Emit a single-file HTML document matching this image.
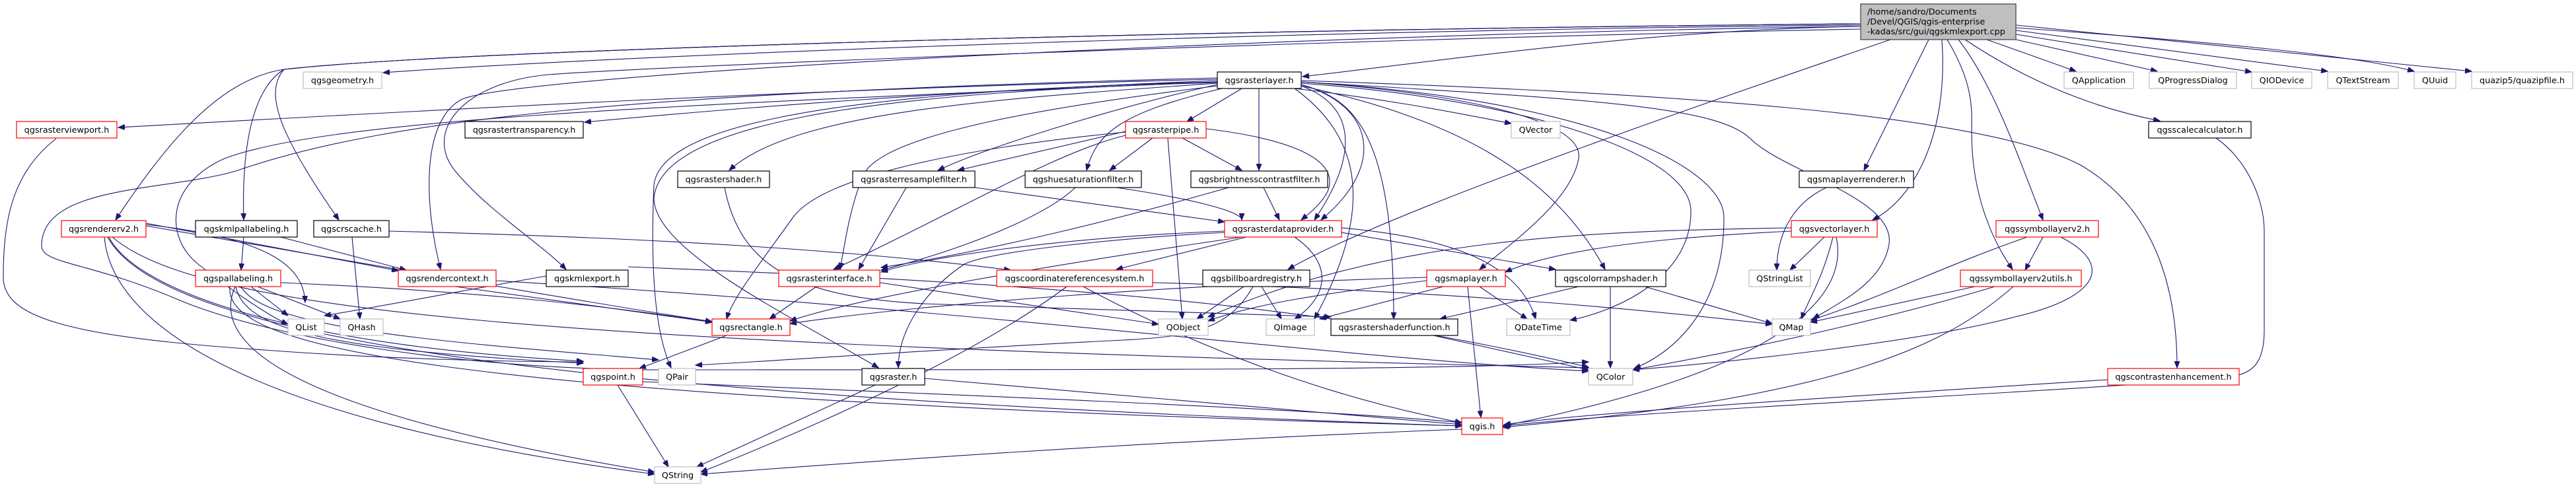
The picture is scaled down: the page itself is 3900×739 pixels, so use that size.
<!DOCTYPE html>
<html><head><meta charset="utf-8"><style>
html,body{margin:0;padding:0;background:#fff;}
svg{display:block;}
text{font-family:"DejaVu Sans","Liberation Sans",sans-serif;font-size:12.8px;fill:#000;}
.e{fill:none;stroke:#191970;stroke-width:1.1;marker-end:url(#a);}
.r{fill:#fff;stroke:#ff0000;stroke-width:1.2;}
.b{fill:#fff;stroke:#000;stroke-width:1.2;}
.g{fill:#fff;stroke:#bfbfbf;stroke-width:1.2;}
</style></head><body>
<svg width="3900" height="739" viewBox="0 0 3900 739" xmlns="http://www.w3.org/2000/svg">
<defs><marker id="a" markerUnits="userSpaceOnUse" markerWidth="11" markerHeight="8" refX="10" refY="4" orient="auto"><path d="M0,0 L10,4 L0,8 z" fill="#191970" stroke="#191970"/></marker></defs>
<rect width="3900" height="739" fill="#fff"/>
<g>
<!-- main edges -->
<path class="e" d="M2817,40 C2500,45 2200,90 1972,116"/>
<path class="e" d="M2817,38 C2000,45 1000,80 580,110"/>
<path class="e" d="M2817,36 C1800,45 700,75 430,105 C330,120 250,220 175,333"/>
<path class="e" d="M2817,36 C1800,45 700,75 430,105 C390,130 365,200 369,333"/>
<path class="e" d="M2817,36 C1800,45 700,75 430,105 C400,140 420,200 513,333"/>
<path class="e" d="M2817,40 C2000,50 800,110 700,150 C640,180 640,300 667,408"/>
<path class="e" d="M2817,44 C2000,60 1000,100 830,113 C700,125 640,200 690,260 C740,320 820,370 857,408"/>
<path class="e" d="M2862,60 C2600,150 2100,320 1950,408"/>
<path class="e" d="M2920,60 L2822,258"/>
<path class="e" d="M2940,60 C2950,200 2900,300 2835,333"/>
<path class="e" d="M2948,60 C2990,130 2985,170 2985,200 C2985,300 3020,370 3047,408"/>
<path class="e" d="M2965,60 C3020,130 3060,250 3093,333"/>
<path class="e" d="M3008,60 L3143,108"/>
<path class="e" d="M2975,60 C3050,110 3150,160 3270,183"/>
<path class="e" d="M3052,60 L3266,108"/>
<path class="e" d="M3052,52 L3409,109"/>
<path class="e" d="M3052,46 L3524,108"/>
<path class="e" d="M3052,42 C3300,60 3550,80 3655,108"/>
<path class="e" d="M3052,38 L3742,108"/>
<!-- rasterlayer edges -->
<path class="e" d="M1843,120 C1200,135 600,170 179,193"/>
<path class="e" d="M1843,122 C1400,140 1100,165 885,185"/>
<path class="e" d="M1880,134 L1797,184"/>
<path class="e" d="M1906,134 L1906,258"/>
<path class="e" d="M1960,134 C2100,150 2200,170 2288,187"/>
<path class="e" d="M1850,134 C1700,170 1660,200 1645,258"/>
<path class="e" d="M1843,128 C1700,160 1500,220 1420,258"/>
<path class="e" d="M1843,126 C1500,150 1200,170 1104,258"/>
<path class="e" d="M1843,130 C1600,160 1350,200 1310,260 C1290,300 1280,360 1272,408"/>
<path class="e" d="M1970,130 C2050,160 2060,230 1990,333"/>
<path class="e" d="M1970,128 C2080,160 2100,250 2000,333"/>
<path class="e" d="M1970,128 C2050,150 2110,200 2110,483"/>
<path class="e" d="M1960,134 C2050,200 2090,300 1990,483"/>
<path class="e" d="M1970,124 C2200,140 2400,180 2390,240 C2380,300 2300,360 2240,408"/>
<path class="e" d="M1970,130 C2200,180 2350,260 2430,408"/>
<path class="e" d="M1970,126 C2300,150 2560,230 2560,320 C2560,420 2450,470 2377,485"/>
<path class="e" d="M1970,124 C2400,150 2610,250 2610,330 C2610,480 2520,540 2474,558"/>
<path class="e" d="M1970,122 C2500,140 3000,170 3150,250 C3270,320 3296,450 3296,557"/>
<path class="e" d="M1970,124 C2400,150 2600,160 2650,210 C2700,260 2870,300 2860,370 C2850,430 2780,460 2745,483"/>
<path class="e" d="M1843,124 C1000,160 500,180 340,240 C250,280 250,360 300,400 C350,440 410,480 436,491"/>
<path class="e" d="M1843,118 C1000,140 600,175 357,259 C250,290 63,280 63,372 C63,400 134,396 268,453 C400,510 700,560 1000,560 C1800,560 2200,560 2405,548"/>
<path class="e" d="M1843,125 C1300,140 1000,190 990,300 C990,380 1200,480 1330,557"/>
<path class="e" d="M1843,124 C1200,140 1000,200 990,280 C985,400 990,500 1016,557"/>
<!-- rasterpipe -->
<path class="e" d="M1745,209 L1680,258"/>
<path class="e" d="M1790,209 L1880,258"/>
<path class="e" d="M1704,199 L1450,258"/>
<path class="e" d="M1704,205 C1600,230 1450,320 1262,408"/>
<path class="e" d="M1826,195 C1950,210 2030,240 2010,290 C2000,310 1980,325 1970,333"/>
<path class="e" d="M1768,209 L1790,483"/>
<path class="e" d="M1704,200 C1500,220 1250,260 1200,330 C1150,400 1110,450 1100,483"/>
<!-- filters -->
<path class="e" d="M1690,284 C1800,300 1880,320 1880,333"/>
<path class="e" d="M1628,284 C1580,330 1450,380 1334,409"/>
<path class="e" d="M1476,284 L1854,336"/>
<path class="e" d="M1372,284 L1300,408"/>
<path class="e" d="M1913,284 L1937,333"/>
<path class="e" d="M1860,284 C1700,330 1500,380 1334,405"/>
<!-- rasterdataprovider -->
<path class="e" d="M1854,350 C1600,360 1400,390 1334,412"/>
<path class="e" d="M1887,359 L1690,408"/>
<path class="e" d="M1960,359 C2020,400 2010,450 1960,483"/>
<path class="e" d="M2031,345 C2200,360 2300,400 2325,483"/>
<path class="e" d="M2031,352 L2355,408"/>
<path class="e" d="M1854,352 C1700,360 1500,380 1460,400 C1400,440 1360,500 1360,557"/>
<path class="e" d="M1880,359 C1600,400 1300,450 1196,486"/>
<!-- rasterinterface, crs, billboard -->
<path class="e" d="M1236,434 L1165,483"/>
<path class="e" d="M1332,428 L1754,491"/>
<path class="e" d="M1615,434 C1500,520 1300,620 1061,715"/>
<path class="e" d="M1640,434 C1800,520 2000,600 2213,640"/>
<path class="e" d="M1745,428 C2200,440 2500,470 2683,491"/>
<path class="e" d="M1883,434 L1812,483"/>
<path class="e" d="M1910,434 L1940,483"/>
<path class="e" d="M1897,434 C1860,500 1800,510 1700,515 C1400,530 1200,545 1053,553"/>
<!-- maplayer, colorramp, shaderfunction -->
<path class="e" d="M2222,434 L2242,632"/>
<path class="e" d="M2240,434 L2312,483"/>
<path class="e" d="M2185,434 L1998,483"/>
<path class="e" d="M2160,420 C1800,430 1400,460 1196,490"/>
<path class="e" d="M2160,425 C2000,445 1900,460 1829,486"/>
<path class="e" d="M2390,434 L2180,483"/>
<path class="e" d="M2438,434 L2438,557"/>
<path class="e" d="M2490,434 L2683,490"/>
<path class="e" d="M2170,508 L2405,560"/>
<!-- point, raster, rectangle -->
<path class="e" d="M935,583 L1012,707"/>
<path class="e" d="M973,578 C1500,600 2000,620 2213,640"/>
<path class="e" d="M1325,583 L1055,707"/>
<path class="e" d="M1400,573 L2213,643"/>
<path class="e" d="M1100,508 L968,558"/>
<!-- rendercontext, kmlexport -->
<path class="e" d="M690,434 L1078,488"/>
<path class="e" d="M751,425 C1500,470 2000,540 2405,562"/>
<path class="e" d="M951,404 C1600,430 2000,460 2405,556"/>
<path class="e" d="M827,418 C700,440 600,460 491,478"/>
<!-- rendererv2 -->
<path class="e" d="M221,340 C400,360 460,400 462,458"/>
<path class="e" d="M221,338 L603,410"/>
<path class="e" d="M221,342 C500,390 900,460 1078,487"/>
<path class="e" d="M165,359 C200,430 400,520 883,547"/>
<path class="e" d="M158,359 C170,500 400,640 991,718"/>
<path class="e" d="M170,359 C300,470 800,520 2405,557"/>
<path class="e" d="M163,359 C250,520 900,600 2213,645"/>
<!-- pallabeling -->
<path class="e" d="M380,434 L436,478"/>
<path class="e" d="M390,434 L515,483"/>
<path class="e" d="M425,428 C700,440 900,460 1078,488"/>
<path class="e" d="M357,434 C370,500 500,530 883,550"/>
<path class="e" d="M356,434 C300,560 600,650 991,715"/>
<path class="e" d="M348,434 C340,520 600,600 2213,645"/>
<path class="e" d="M365,434 C400,500 700,520 997,545"/>
<path class="e" d="M369,359 L365,409"/>
<path class="e" d="M425,359 L615,409"/>
<path class="e" d="M533,359 L545,483"/>
<path class="e" d="M589,350 C1000,360 1300,380 1530,409"/>
<path class="e" d="M85,210 C20,260 5,330 5,420 C5,480 100,510 400,530 C600,545 800,548 883,548"/>
<path class="e" d="M1097,284 C1120,400 1200,450 1400,460 C1700,470 1900,475 2015,480"/>
<!-- right side -->
<path class="e" d="M2765,284 C2710,310 2690,360 2690,409"/>
<path class="e" d="M2762,359 L2710,409"/>
<path class="e" d="M2775,359 C2760,420 2740,450 2727,483"/>
<path class="e" d="M2780,359 C2800,450 2700,560 2275,645"/>
<path class="e" d="M2712,350 C2500,360 2350,380 2279,412"/>
<path class="e" d="M2712,345 C2400,350 2100,360 1829,480"/>
<path class="e" d="M3093,359 L3066,409"/>
<path class="e" d="M3069,359 C2950,400 2850,450 2741,485"/>
<path class="e" d="M3120,359 C3200,400 3180,450 3050,480 C2900,520 2600,550 2472,560"/>
<path class="e" d="M2990,434 L2741,488"/>
<path class="e" d="M3020,434 C2900,470 2700,520 2472,560"/>
<path class="e" d="M3048,434 C2950,520 2800,600 2275,647"/>
<path class="e" d="M3355,209 C3400,240 3428,300 3428,350 L3428,500 C3428,550 3410,565 3380,570 C3200,590 2500,620 2277,645"/>
<path class="e" d="M3191,575 C2800,600 2400,625 2277,643"/>
<path class="e" d="M2213,650 C1700,670 1300,700 1061,718"/>
</g>
<!-- nodes -->
<rect x="2817" y="6" width="235" height="54" fill="#bfbfbf" stroke="#404040" stroke-width="1.2"/>
<text x="2827" y="22">/home/sandro/Documents</text>
<text x="2827" y="37">/Devel/QGIS/qgis-enterprise</text>
<text x="2827" y="52">-kadas/src/gui/qgskmlexport.cpp</text>
<g text-anchor="middle">
<rect class="g" x="459" y="109" width="119" height="25"/><text x="518.5" y="126">qgsgeometry.h</text>
<rect class="b" x="1843" y="109" width="127" height="25"/><text x="1906.5" y="126">qgsrasterlayer.h</text>
<rect class="g" x="3125" y="109" width="105" height="25"/><text x="3177.5" y="126">QApplication</text>
<rect class="g" x="3254" y="109" width="132" height="25"/><text x="3320" y="126">QProgressDialog</text>
<rect class="g" x="3409" y="109" width="91" height="25"/><text x="3454.5" y="126">QIODevice</text>
<rect class="g" x="3524" y="109" width="107" height="25"/><text x="3577.5" y="126">QTextStream</text>
<rect class="g" x="3655" y="109" width="63" height="25"/><text x="3686.5" y="126">QUuid</text>
<rect class="g" x="3742" y="109" width="153" height="25"/><text x="3818.5" y="126">quazip5/quazipfile.h</text>

<rect class="r" x="25" y="184" width="152" height="25"/><text x="101" y="201">qgsrasterviewport.h</text>
<rect class="b" x="704" y="184" width="179" height="25"/><text x="793.5" y="201">qgsrastertransparency.h</text>
<rect class="r" x="1704" y="184" width="122" height="25"/><text x="1765" y="201">qgsrasterpipe.h</text>
<rect class="g" x="2288" y="184" width="74" height="25"/><text x="2325" y="201">QVector</text>
<rect class="b" x="3253" y="184" width="155" height="25"/><text x="3330.5" y="201">qgsscalecalculator.h</text>

<rect class="b" x="1026" y="259" width="139" height="25"/><text x="1095.5" y="276">qgsrastershader.h</text>
<rect class="b" x="1291" y="259" width="185" height="25"/><text x="1383.5" y="276">qgsrasterresamplefilter.h</text>
<rect class="b" x="1552" y="259" width="176" height="25"/><text x="1640" y="276">qgshuesaturationfilter.h</text>
<rect class="b" x="1803" y="259" width="207" height="25"/><text x="1906.5" y="276">qgsbrightnesscontrastfilter.h</text>
<rect class="b" x="2724" y="259" width="173" height="25"/><text x="2810.5" y="276">qgsmaplayerrenderer.h</text>

<rect class="r" x="93" y="334" width="128" height="25"/><text x="157" y="351">qgsrendererv2.h</text>
<rect class="b" x="296" y="334" width="154" height="25"/><text x="373" y="351">qgskmlpallabeling.h</text>
<rect class="b" x="475" y="334" width="114" height="25"/><text x="532" y="351">qgscrscache.h</text>
<rect class="r" x="1854" y="334" width="177" height="25"/><text x="1942.5" y="351">qgsrasterdataprovider.h</text>
<rect class="r" x="2712" y="334" width="130" height="25"/><text x="2777" y="351">qgsvectorlayer.h</text>
<rect class="r" x="3022" y="334" width="155" height="25"/><text x="3099.5" y="351">qgssymbollayerv2.h</text>

<rect class="r" x="296" y="409" width="129" height="25"/><text x="360.5" y="426">qgspallabeling.h</text>
<rect class="r" x="603" y="409" width="148" height="25"/><text x="677" y="426">qgsrendercontext.h</text>
<rect class="b" x="827" y="409" width="124" height="25"/><text x="889" y="426">qgskmlexport.h</text>
<rect class="r" x="1179" y="409" width="153" height="25"/><text x="1255.5" y="426">qgsrasterinterface.h</text>
<rect class="r" x="1509" y="409" width="236" height="25"/><text x="1627" y="426">qgscoordinatereferencesystem.h</text>
<rect class="b" x="1821" y="409" width="162" height="25"/><text x="1902" y="426">qgsbillboardregistry.h</text>
<rect class="r" x="2160" y="409" width="119" height="25"/><text x="2219.5" y="426">qgsmaplayer.h</text>
<rect class="b" x="2355" y="409" width="167" height="25"/><text x="2438.5" y="426">qgscolorrampshader.h</text>
<rect class="g" x="2648" y="409" width="93" height="25"/><text x="2694.5" y="426">QStringList</text>
<rect class="r" x="2968" y="409" width="183" height="25"/><text x="3059.5" y="426">qgssymbollayerv2utils.h</text>

<rect class="g" x="436" y="483" width="55" height="25"/><text x="463.5" y="500">QList</text>
<rect class="g" x="515" y="483" width="65" height="25"/><text x="547.5" y="500">QHash</text>
<rect class="r" x="1078" y="483" width="118" height="25"/><text x="1137" y="500">qgsrectangle.h</text>
<rect class="g" x="1754" y="483" width="75" height="25"/><text x="1791.5" y="500">QObject</text>
<rect class="g" x="1917" y="483" width="73" height="25"/><text x="1953.5" y="500">QImage</text>
<rect class="b" x="2015" y="483" width="192" height="25"/><text x="2111" y="500">qgsrastershaderfunction.h</text>
<rect class="g" x="2281" y="483" width="96" height="25"/><text x="2329" y="500">QDateTime</text>
<rect class="g" x="2683" y="483" width="58" height="25"/><text x="2712" y="500">QMap</text>

<rect class="r" x="883" y="558" width="90" height="25"/><text x="928" y="575">qgspoint.h</text>
<rect class="g" x="997" y="558" width="56" height="25"/><text x="1025" y="575">QPair</text>
<rect class="b" x="1305" y="558" width="95" height="25"/><text x="1352.5" y="575">qgsraster.h</text>
<rect class="g" x="2405" y="558" width="67" height="25"/><text x="2438.5" y="575">QColor</text>
<rect class="r" x="3191" y="558" width="199" height="25"/><text x="3290.5" y="575">qgscontrastenhancement.h</text>

<rect class="r" x="2213" y="633" width="62" height="25"/><text x="2244" y="650">qgis.h</text>
<rect class="g" x="991" y="707" width="70" height="25"/><text x="1026" y="724">QString</text>
</g>
</svg>
</body></html>
